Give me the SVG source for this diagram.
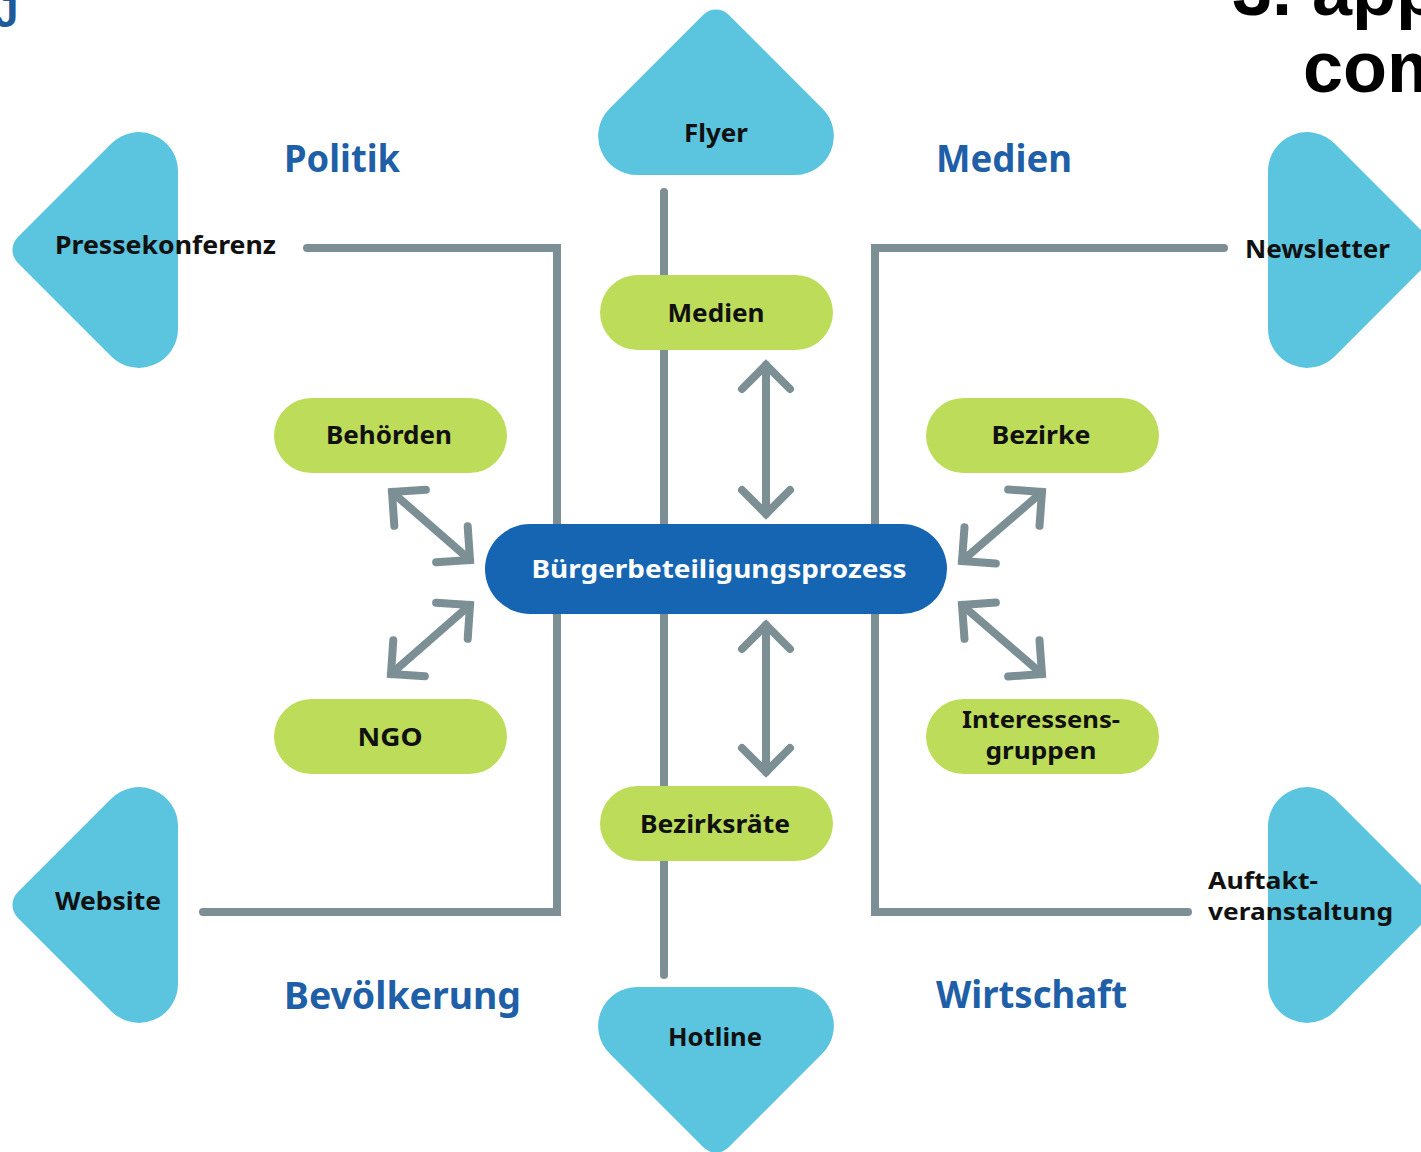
<svg xmlns="http://www.w3.org/2000/svg" xmlns:xlink="http://www.w3.org/1999/xlink" width="1421" height="1152" viewBox="0 0 1421 1152">
<style>
.tri{fill:#5BC4DF}
.pill{fill:#BDDD5A}
.core{fill:#1565B2}
.ln{fill:none;stroke:#7C8F95;stroke-width:8;stroke-linecap:round;stroke-linejoin:miter}
.arr{fill:none;stroke:#7C8F95;stroke-width:8;stroke-linecap:round;marker-start:url(#ah);marker-end:url(#ah)}
.lbl{font-family:"Noto Sans","DejaVu Sans",sans-serif;font-weight:700;font-size:25px;fill:#111;text-anchor:middle}
.lbll{font-family:"Noto Sans","DejaVu Sans",sans-serif;font-weight:700;font-size:25px;fill:#111}
.sm{font-size:24px}
.wht{fill:#fff}
.cat{font-family:"Noto Sans","DejaVu Sans",sans-serif;font-weight:700;font-size:37px;fill:#1E5FA8}
.hd{font-family:"Liberation Sans",Arial,sans-serif;font-weight:700;font-size:72px;fill:#000}
</style>
<defs>
<path id="tri" d="M -12.7,-160.3 A 18 18 0 0 1 12.7,-160.3 L 106.4,-66.6 A 39 39 0 0 1 78.8,0 L -78.8,0 A 39 39 0 0 1 -106.4,-66.6 Z"/>
<marker id="ah" markerUnits="userSpaceOnUse" orient="auto-start-reverse" refX="0" refY="0" markerWidth="60" markerHeight="60" viewBox="-40 -30 50 60" overflow="visible">
<path d="M -24,-24 L 0,0 L -24,24" fill="none" stroke="#7C8F95" stroke-width="8" stroke-linecap="round" stroke-linejoin="miter"/>
</marker>
</defs>
<rect width="1421" height="1152" fill="#fff"/>

<text class="hd" x="1232" y="15">3. appl</text>
<text class="hd" x="1303" y="92">com</text>
<text x="-6" y="27" font-family="Liberation Sans,Arial,sans-serif" font-weight="700" font-size="44" fill="#1F5A9A">J</text>

<g id="connectors">
<path class="ln" d="M 307,248 H 557 V 912 H 203"/>
<path class="ln" d="M 1224,248 H 875 V 912 H 1188"/>
<path class="ln" d="M 664,192 V 975"/>
<path class="arr" d="M 766,365 V 514"/>
<path class="arr" d="M 766,625 V 772"/>
<path class="arr" d="M 392,492 L 470,560"/>
<path class="arr" d="M 470,605 L 391,674"/>
<path class="arr" d="M 1042,492 L 962,561"/>
<path class="arr" d="M 962,605 L 1042,674"/>
</g>

<g id="flyer"><use xlink:href="#tri" class="tri" transform="translate(716,175)"/><text class="lbl" x="716" y="142" textLength="64" lengthAdjust="spacingAndGlyphs">Flyer</text></g>
<g id="hotline"><use xlink:href="#tri" class="tri" transform="translate(716,987) rotate(180)"/><text class="lbl" x="715" y="1046" textLength="94" lengthAdjust="spacingAndGlyphs">Hotline</text></g>
<g id="pressekonferenz"><use xlink:href="#tri" class="tri" transform="translate(178,250) rotate(-90)"/><text class="lbll" x="55" y="254" textLength="221" lengthAdjust="spacingAndGlyphs">Pressekonferenz</text></g>
<g id="website"><use xlink:href="#tri" class="tri" transform="translate(178,905) rotate(-90)"/><text class="lbll" x="55" y="910" textLength="106" lengthAdjust="spacingAndGlyphs">Website</text></g>
<g id="newsletter"><use xlink:href="#tri" class="tri" transform="translate(1268,250) rotate(90)"/><text class="lbll" x="1245" y="258" textLength="145" lengthAdjust="spacingAndGlyphs">Newsletter</text></g>
<g id="auftakt"><use xlink:href="#tri" class="tri" transform="translate(1268,905) rotate(90)"/><text class="lbll sm" x="1208" y="889" textLength="110" lengthAdjust="spacingAndGlyphs">Auftakt-</text><text class="lbll sm" x="1208" y="920" textLength="185" lengthAdjust="spacingAndGlyphs">veranstaltung</text></g>

<g id="medien-node"><rect class="pill" x="600" y="275" width="233" height="75" rx="37.5"/><text class="lbl" x="716" y="322" textLength="97" lengthAdjust="spacingAndGlyphs">Medien</text></g>
<g id="behoerden"><rect class="pill" x="274" y="398" width="233" height="75" rx="37.5"/><text class="lbl" x="389" y="444" textLength="126" lengthAdjust="spacingAndGlyphs">Behörden</text></g>
<g id="bezirke"><rect class="pill" x="926" y="398" width="233" height="75" rx="37.5"/><text class="lbl" x="1041" y="444" textLength="99" lengthAdjust="spacingAndGlyphs">Bezirke</text></g>
<g id="ngo"><rect class="pill" x="274" y="699" width="233" height="75" rx="37.5"/><text class="lbl" x="390" y="746" textLength="65" lengthAdjust="spacingAndGlyphs">NGO</text></g>
<g id="interessensgruppen"><rect class="pill" x="926" y="699" width="233" height="75" rx="37.5"/><text class="lbl sm" x="1041" y="728" textLength="158" lengthAdjust="spacingAndGlyphs">Interessens-</text><text class="lbl sm" x="1041" y="759" textLength="111" lengthAdjust="spacingAndGlyphs">gruppen</text></g>
<g id="bezirksraete"><rect class="pill" x="600" y="786" width="233" height="75" rx="37.5"/><text class="lbl" x="715" y="833" textLength="150" lengthAdjust="spacingAndGlyphs">Bezirksräte</text></g>

<g id="buergerbeteiligungsprozess"><rect class="core" x="485" y="524" width="462" height="90" rx="45"/><text class="lbl wht" x="719" y="578" textLength="375" lengthAdjust="spacingAndGlyphs">Bürgerbeteiligungsprozess</text></g>

<g id="categories">
<text class="cat" x="284" y="172" textLength="116" lengthAdjust="spacingAndGlyphs">Politik</text>
<text class="cat" x="936" y="172" textLength="136" lengthAdjust="spacingAndGlyphs">Medien</text>
<text class="cat" x="284" y="1009" textLength="237" lengthAdjust="spacingAndGlyphs">Bevölkerung</text>
<text class="cat" x="936" y="1008" textLength="191" lengthAdjust="spacingAndGlyphs">Wirtschaft</text>
</g>
</svg>
